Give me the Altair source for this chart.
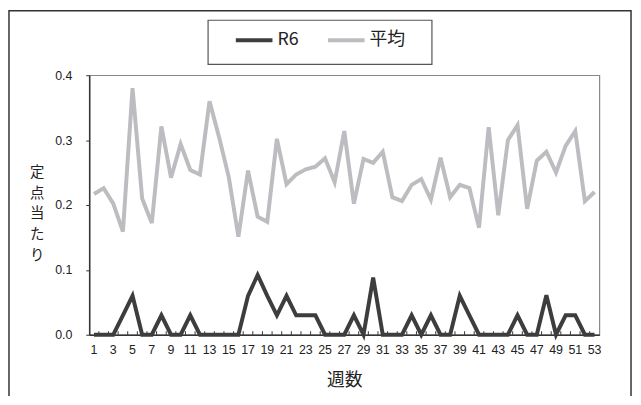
import altair as alt
import pandas as pd

weeks = list(range(1, 54))
r6 = [0, 0, 0, 0.03, 0.06, 0, 0, 0.03, 0, 0,
      0.03, 0, 0, 0, 0, 0, 0.06, 0.092, 0.06, 0.03,
      0.06, 0.03, 0.03, 0.03, 0, 0, 0, 0.03, 0, 0.088,
      0, 0, 0, 0.03, 0, 0.03, 0, 0, 0.06, 0.03,
      0, 0, 0, 0, 0.03, 0, 0, 0.061, 0, 0.03,
      0.03, 0, 0]
avg = [0.217, 0.226, 0.202, 0.159, 0.380, 0.210, 0.172, 0.321, 0.242, 0.294,
       0.254, 0.247, 0.360, 0.304, 0.243, 0.151, 0.253, 0.182, 0.174, 0.302,
       0.232, 0.247, 0.255, 0.259, 0.272, 0.235, 0.314, 0.202, 0.271, 0.265,
       0.282, 0.212, 0.206, 0.231, 0.240, 0.208, 0.273, 0.212, 0.231, 0.226,
       0.165, 0.320, 0.184, 0.300, 0.323, 0.194, 0.268, 0.282, 0.250, 0.291,
       0.314, 0.206, 0.220]
series_names = ["R6", "平均"]
series_colors = ["#3d3d3d", "#bdbdc1"]
x_label_weeks = list(range(1, 54, 2))
y_ticks = [0.0, 0.1, 0.2, 0.3, 0.4]
y_title = ["定", "点", "当", "た", "り"]
x_title = "週数"

df = pd.DataFrame({
    "week": weeks * 2,
    "value": r6 + avg,
    "series": [series_names[0]] * len(weeks) + [series_names[1]] * len(weeks),
})
tick_df = pd.DataFrame({"week": weeks[1:]})
one = pd.DataFrame({"k": [0]})

W, H = 515, 262
JP = "Noto Sans CJK JP"
NUM = "Liberation Sans Narrow, Liberation Sans, sans-serif"
LEG = "Liberation Sans Narrow, Noto Sans CJK JP, sans-serif"

x_scale = alt.Scale(type="band", domain=weeks, paddingInner=0, paddingOuter=0)
x_axis = alt.Axis(values=x_label_weeks, labelAngle=0, ticks=False, tickSize=0,
                  labelPadding=9, labelFont=NUM, labelFontSize=12.5,
                  labelColor="#222222", domainColor="#333333", domainWidth=1.5,
                  title=x_title, titleFont=JP, titleFontSize=18,
                  titleFontWeight="normal", titleColor="#222222",
                  titleY=46, titleBaseline="middle")

frame = alt.Chart(one).mark_rect(fillOpacity=0, stroke="#333333", strokeWidth=1.5).encode(
    x=alt.value(-81), x2=alt.value(547), y=alt.value(-65), y2=alt.value(340)
)
legend_box = alt.Chart(one).mark_rect(fill="white", stroke="#555555", strokeWidth=1.2).encode(
    x=alt.value(120), x2=alt.value(346), y=alt.value(-55.5), y2=alt.value(-11)
)
ticks = alt.Chart(tick_df).mark_rule(color="#333333", strokeWidth=1).encode(
    x=alt.X("week:O", scale=x_scale, bandPosition=0, axis=x_axis),
    y=alt.value(H), y2=alt.value(H - 3.5),
)
lines = alt.Chart(df).mark_line(strokeWidth=4, strokeJoin="miter").encode(
    x=alt.X("week:O", scale=x_scale, bandPosition=0.5, axis=x_axis),
    y=alt.Y("value:Q", scale=alt.Scale(domain=[0, 0.4], nice=False),
            axis=alt.Axis(values=y_ticks, format=".1f", tickSize=3.5, tickColor="#333333",
                          labelPadding=14, labelFont=NUM, labelFontSize=12.5,
                          labelColor="#222222", domainColor="#333333", domainWidth=1.5,
                          grid=False, title=y_title, titleAngle=0, titleFont=JP,
                          titleFontSize=14.5, titleFontWeight="normal", titleColor="#222222",
                          titleLineHeight=21, titleX=-53, titleY=98,
                          titleBaseline="middle", titleAlign="center")),
    color=alt.Color("series:N", sort=series_names,
                    scale=alt.Scale(domain=series_names, range=series_colors),
                    legend=alt.Legend(orient="none", legendX=146, legendY=-56, direction="horizontal",
                                      title=None, symbolType="stroke", symbolSize=1369,
                                      symbolStrokeWidth=4, labelFont=LEG, labelFontSize=18,
                                      labelColor="#222222", labelOffset=3, columnPadding=21,
                                      padding=0)),
)

chart = alt.layer(frame, legend_box, ticks, lines).properties(
    width=W, height=H,
    autosize=alt.AutoSizeParams(type="none"),
    padding={"left": 82, "top": 66, "right": 34, "bottom": 60},
    background="white",
).configure_view(stroke="#888888", strokeWidth=1.2)

chart.save("out.html", embed_options={"renderer": "svg", "actions": False})
